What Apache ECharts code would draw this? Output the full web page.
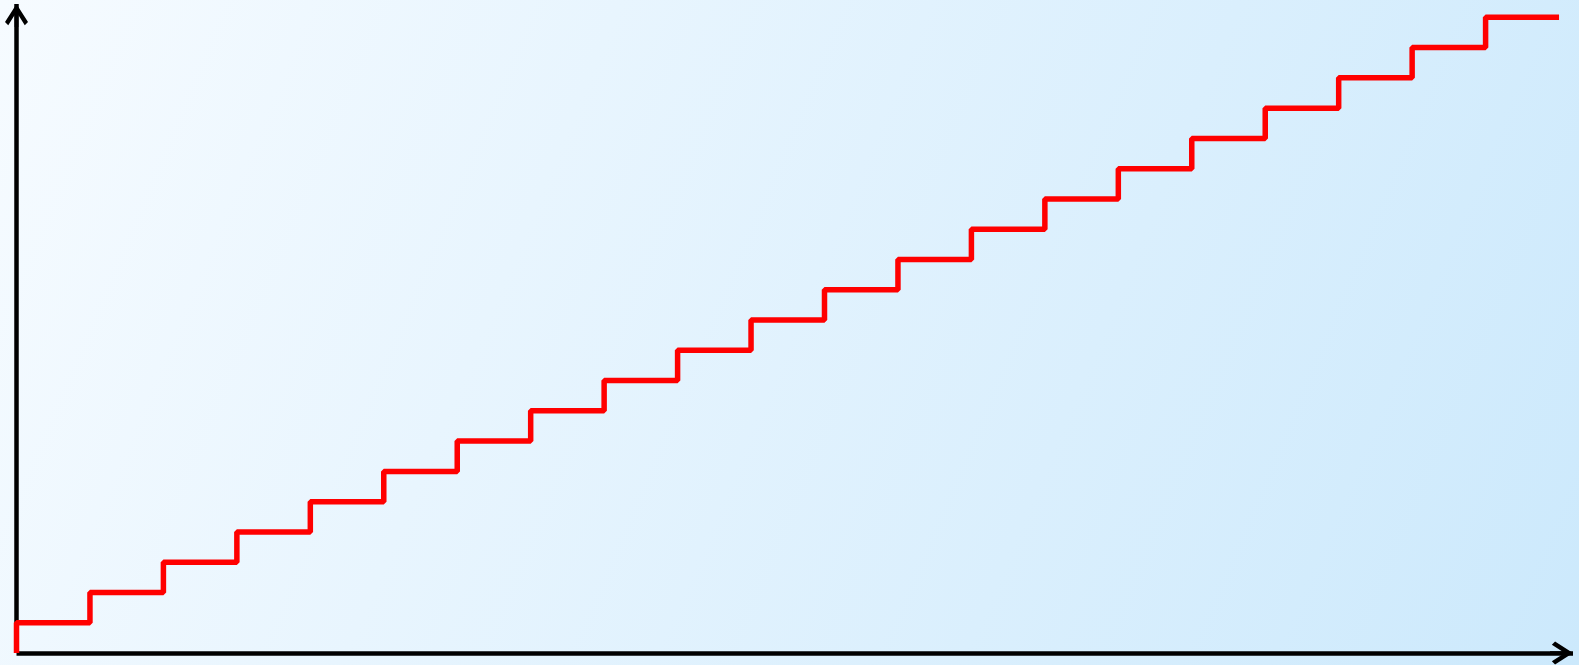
<!DOCTYPE html>
<html>
<head>
<meta charset="utf-8">
<script src="https://cdn.jsdelivr.net/npm/echarts@6/dist/echarts.min.js"></script>
<style>
  html, body { margin: 0; padding: 0; }
  #stepChart { width: 1579px; height: 665px; }
</style>
</head>
<body>
<div id="stepChart"></div>
<script>
// step positions and levels
var xValues = [0, 1, 2, 3, 4, 5, 6, 7, 8, 9, 10, 11, 12, 13, 14, 15, 16, 17, 18, 19, 20, 21];
var yValues = [0, 1, 2, 3, 4, 5, 6, 7, 8, 9, 10, 11, 12, 13, 14, 15, 16, 17, 18, 19, 20, 21];

var points = xValues.map(function (x, i) { return [x, yValues[i]]; });

// chevron with a stem so the axis line meets the tip
var arrowPath = 'path://M50 0 L100 78 L86 92 L58 48 L58 100 L42 100 L42 48 L14 92 L0 78 Z';

var chart = echarts.init(document.getElementById('stepChart'));
chart.setOption({
  animation: false,
  backgroundColor: new echarts.graphic.LinearGradient(0, 0, 1, 1, [
    { offset: 0, color: '#f6fbff' },
    { offset: 1, color: '#cce9fc' }
  ]),
  grid: {
    left: 16.5,
    right: 6,
    top: 4,
    bottom: 12
  },
  xAxis: {
    type: 'value',
    min: 0,
    max: 21.19,
    splitLine: { show: false },
    axisTick: { show: false },
    axisLabel: { show: false },
    axisLine: {
      show: true,
      onZero: false,
      symbol: ['none', arrowPath],
      symbolSize: [23, 23],
      symbolOffset: [0, -11.5],
      lineStyle: { color: '#000', width: 4.5, cap: 'butt' }
    }
  },
  yAxis: {
    type: 'value',
    min: 0,
    max: 21.44,
    splitLine: { show: false },
    axisTick: { show: false },
    axisLabel: { show: false },
    axisLine: {
      show: true,
      onZero: false,
      symbol: ['none', arrowPath],
      symbolSize: [23, 23],
      symbolOffset: [0, -11.5],
      lineStyle: { color: '#000', width: 4.5, cap: 'butt' }
    }
  },
  series: [
    {
      type: 'line',
      step: 'start',
      data: points,
      symbol: 'none',
      lineStyle: { color: '#ff0000', width: 5.5 }
    }
  ]
});
</script>
</body>
</html>
